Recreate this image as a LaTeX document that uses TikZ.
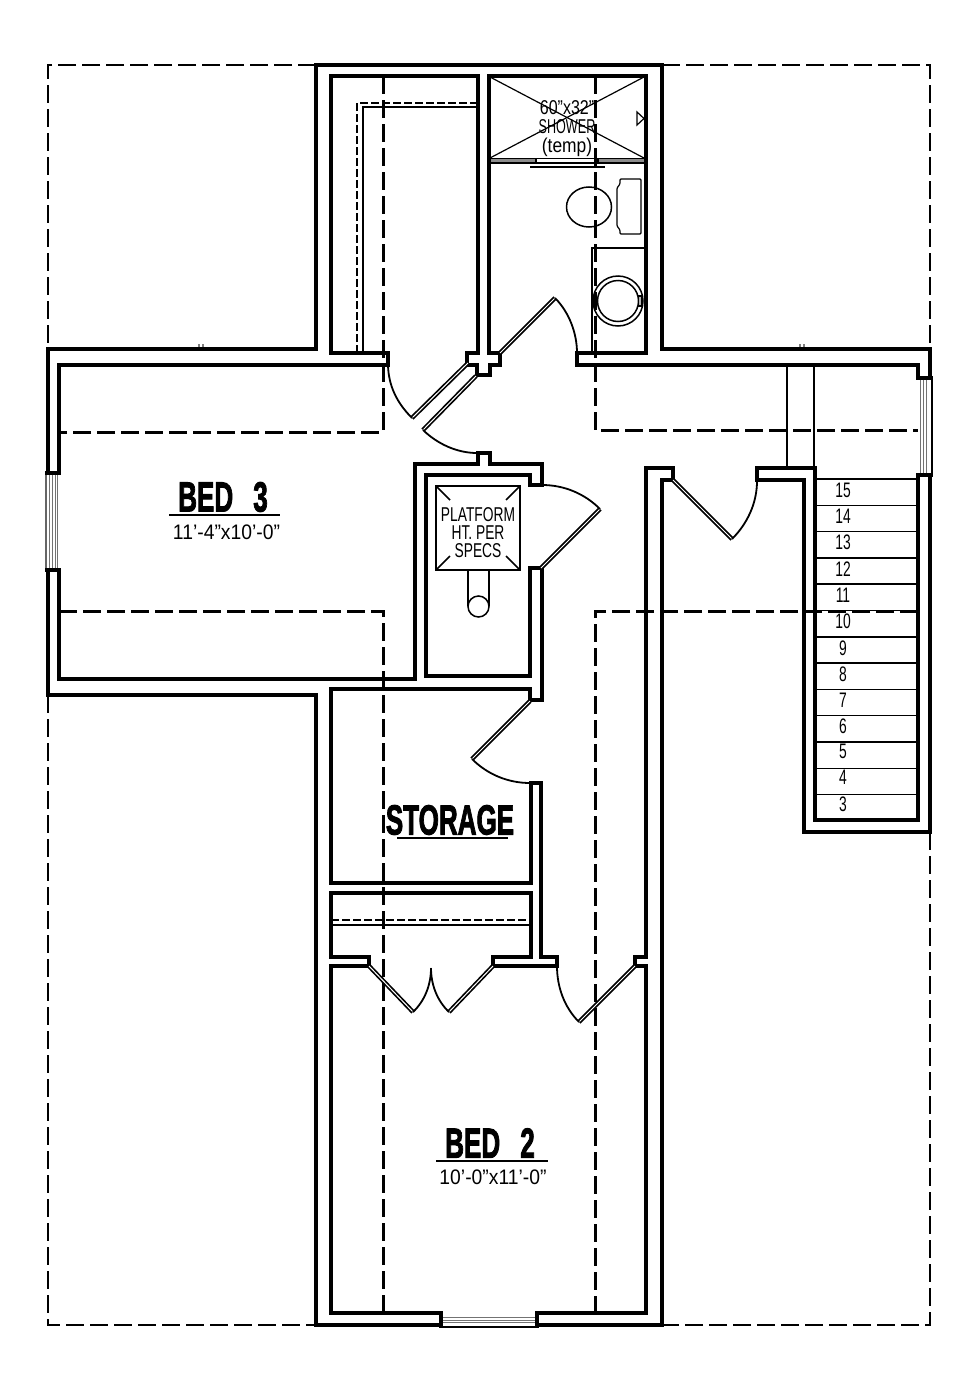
\documentclass[tikz,border=0pt]{standalone}
\usepackage{fontspec}
\setmainfont{Liberation Sans}
\newfontfamily\cadbold[FakeBold=2.6]{Liberation Sans Bold}
\usepackage{graphicx}
\newcommand{\cad}[3]{\scalebox{#1}[1]{\fontsize{#2}{#2}\selectfont #3}}
\newcommand{\cadb}[3]{\scalebox{#1}[1]{\cadbold\fontsize{#2}{#2}\selectfont #3}}
\tikzset{
  wall/.style={line width=3.9pt,miter limit=10},
  outerwall/.style={line width=3.3pt,miter limit=10},
  thinwall/.style={line width=2.4pt},
  hidden/.style={line width=3pt,dash pattern=on 18pt off 6pt},
  perim/.style={line width=2.2pt,dash pattern=on 18pt off 6pt},
  fine/.style={line width=1.5pt},
  hair/.style={line width=1.2pt},
  finedash/.style={line width=1.2pt,dash pattern=on 8pt off 3pt},
  leaf/.style={line width=1.7pt,double,double distance=1pt},
  swing/.style={line width=1.8pt},
  txt/.style={inner sep=0pt,outer sep=0pt,anchor=center},
  glaze/.style={line width=.8pt,black!55},
  jamb/.style={line width=4pt}
}
\begin{document}
\begin{tikzpicture}[x=1pt,y=-1pt]
\useasboundingbox (0,0) rectangle (978,1392);
\fill[white] (0,0) rectangle (978,1392);

% perimeter (dashed)
\draw[perim] (316,65) -- (48,65) -- (48,349);
\draw[perim] (48,695) -- (48,1325) -- (316,1325);
\draw[perim] (662,65) -- (930,65) -- (930,349);
\draw[perim] (930,832) -- (930,1325) -- (662,1325);

% hidden interior lines
\draw[hidden] (383,76) -- (383,432) -- (59,432);
\draw[hidden] (59,611) -- (383,611) -- (383,1312);
\draw[hidden] (595,76) -- (595,430) -- (918,430);
\draw[hidden] (918,611) -- (595,611) -- (595,1312);

% walls
\draw[outerwall] (930,378) -- (930,349) -- (662,349) -- (662,65) -- (316,65) -- (316,349) -- (48,349) -- (48,473);
\draw[outerwall] (48,570) -- (48,695) -- (316,695) -- (316,1325) -- (441,1325);
\draw[outerwall] (537,1325) -- (662,1325) -- (662,480) -- (673,480) -- (673,468) -- (646,468) -- (646,957) -- (635,957) -- (635,966) -- (646,966) -- (646,1313) -- (537,1313);
\draw[wall] (441,1313) -- (331,1313) -- (331,966) -- (369,966) -- (369,957) -- (331,957) -- (331,893) -- (531,893) -- (531,957) -- (493,957) -- (493,966) -- (557,966) -- (557,957) -- (541,957) -- (541,783) -- (531,783) -- (531,883) -- (331,883) -- (331,689) -- (530,689) -- (530,700) -- (542,700) -- (542,568) -- (530,568) -- (530,676) -- (426,676) -- (426,475) -- (530,475) -- (530,485) -- (542,485) -- (542,464) -- (490,464) -- (490,453) -- (478,453) -- (478,464) -- (415,464) -- (415,679) -- (59,679) -- (59,570);
\draw[wall] (59,473) -- (59,365) -- (388,365) -- (388,353) -- (331,353) -- (331,76) -- (478,76) -- (478,353) -- (467,353) -- (467,365) -- (477,365) -- (477,375) -- (490,375) -- (490,365) -- (500,365) -- (500,353) -- (489,353) -- (489,76) -- (646,76) -- (646,353) -- (577,353) -- (577,365) -- (918,365) -- (918,378);
\draw[wall] (918,475) -- (918,820) -- (815,820) -- (815,468) -- (757,468) -- (757,480) -- (804,480) -- (804,832) -- (930,832) -- (930,475);

% closet inner wall above bed 1 passage
\draw[thinwall] (363,353) -- (363,107) -- (477,107);
\draw[finedash] (357,353) -- (357,103) -- (476,103);

% closet rod lines
\draw[finedash] (331,920) -- (531,920);
\draw[thinwall,line width=2pt] (331,925) -- (531,925);

% windows
\foreach \gx in {49,52,55,57} \draw[glaze] (\gx,473) -- (\gx,570);
\draw[hair,black!60] (46,473) -- (46,570);
\draw[jamb] (45,473) -- (61,473);
\draw[jamb] (45,570) -- (61,570);
\foreach \gx in {920,923,926} \draw[glaze] (\gx,378) -- (\gx,475);
\draw[hair] (932,378) -- (932,475);
\draw[jamb] (916,378) -- (933,378);
\draw[jamb] (916,475) -- (933,475);
\foreach \gy in {1317,1320,1322} \draw[glaze] (441,\gy) -- (537,\gy);
\draw[hair] (441,1327) -- (537,1327);
\draw[jamb] (441,1311) -- (441,1328);
\draw[jamb] (537,1311) -- (537,1328);

% door leaves
\draw[leaf] (412,418) -- (468,363);
\draw[leaf] (423,430) -- (476,376);
\draw[leaf] (555,298) -- (500,353);
\draw[leaf] (600,509) -- (541,568);
\draw[leaf] (732,539) -- (673,480);
\draw[leaf] (472,759) -- (530,701);
\draw[leaf] (369,966) -- (413,1012);
\draw[leaf] (493,966) -- (449,1012);
\draw[leaf] (579,1022) -- (635,966);

% door swings
\draw[swing] (388,365) .. controls (388.5,386) and (397,403) .. (412,418);
\draw[swing] (423,430) .. controls (437.5,444) and (457,453) .. (477,453);
\draw[swing] (542,485) .. controls (564,485) and (584.5,493.5) .. (600,509);
\draw[swing] (472,759) .. controls (487.4,774.4) and (508,783) .. (530,783);
\draw[swing] (577,353) .. controls (577,333) and (569,312) .. (555,298);
\draw[swing] (757,481) .. controls (757,503) and (747.5,523.5) .. (732,539);
\draw[swing] (431,968) .. controls (431,984.5) and (425,1000.6) .. (413,1012);
\draw[swing] (431,968) .. controls (431,984.5) and (437,1000.6) .. (449,1012);
\draw[swing] (557,966) .. controls (557,987) and (564.3,1007.3) .. (579,1022);

% shower
\draw[hair] (490,77) -- (644,158);
\draw[hair] (644,77) -- (490,158);
\draw[hair,fill=black!45] (490,158.5) rectangle (536,163);
\draw[hair,fill=black!45] (598,158.5) rectangle (645,163);
\draw[hair] (536,158.5) rectangle (598,163);
\draw[fine] (530,167) -- (605,167);
\draw[hair] (637,112) -- (637,125) -- (644,118.5) -- cycle;

% toilet
\draw[fine] (589,207) ellipse [x radius=22.5,y radius=20];
\draw[hair,rounded corners=1pt] (620,179) -- (641,179) -- (641,234) -- (620,234) -- (620,230) -- (617,226) -- (617,188) -- (620,184) -- cycle;

% washer
\draw[line width=2pt] (592,353) -- (592,248) -- (646,248);
\draw[fine] (618,301) circle [radius=25];
\draw[fine] (618,301) circle [radius=20.5];
\draw[hair,fill=black!30] (638.5,296) rectangle (642,306);
\draw[hair,fill=black!30] (594,297) rectangle (596,302);

% platform
\draw[fine] (436,486) rectangle (520,570);
\draw[fine] (436,486) -- (450,500);
\draw[fine] (520,486) -- (506,500);
\draw[fine] (436,570) -- (450,556);
\draw[fine] (520,570) -- (506,556);
\draw[fine] (468,570) -- (468,606);
\draw[fine] (489,570) -- (489,606);
\draw[fine] (478.5,606.5) circle [radius=10.5];

% stairs
\draw[fine] (787,365) -- (787,468);
\draw[fine] (814,365) -- (814,468);
\foreach \ty in {479,505.3,531.6,557.9,584.2,610.5,636.8,663.1,689.4,715.7,742,768.3,794.6} \draw[fine] (815,\ty) -- (918,\ty);

% tiny marks on the walls
\draw[hair,black!50] (199,344) -- (199,347);
\draw[hair,black!50] (203,344) -- (203,347);
\draw[hair,black!50] (800,344) -- (800,347);
\draw[hair,black!50] (804,344) -- (804,347);

% texts
\node[txt] (s15) at (843,490) {\cad{.66}{21}{15}};
\node[txt] (s14) at (843,516.3) {\cad{.66}{21}{14}};
\node[txt] (s13) at (843,542.6) {\cad{.66}{21}{13}};
\node[txt] (s12) at (843,568.9) {\cad{.66}{21}{12}};
\node[txt] (s11) at (843,595.2) {\cad{.66}{21}{11}};
\node[txt] (s10) at (843,621.5) {\cad{.66}{21}{10}};
\node[txt] (s9) at (843,647.8) {\cad{.66}{21}{9}};
\node[txt] (s8) at (843,674.1) {\cad{.66}{21}{8}};
\node[txt] (s7) at (843,700.4) {\cad{.66}{21}{7}};
\node[txt] (s6) at (843,726.7) {\cad{.66}{21}{6}};
\node[txt] (s5) at (843,751) {\cad{.66}{21}{5}};
\node[txt] (s4) at (843,777.3) {\cad{.66}{21}{4}};
\node[txt] (s3) at (843,804) {\cad{.66}{21}{3}};

\node[txt] (sh1) at (567,108) {\cad{.8}{20}{60"x32"}};
\node[txt] (sh2) at (567,127) {\cad{.63}{20}{SHOWER}};
\node[txt] (sh3) at (567,147) {\cad{.87}{20}{(temp)}};

\node[txt] (pl1) at (478,514.5) {\cad{.69}{20}{PLATFORM}};
\node[txt] (pl2) at (478,532.5) {\cad{.69}{20}{HT. PER}};
\node[txt] (pl3) at (478,551) {\cad{.69}{20}{SPECS}};

\node[txt] (bed3) at (223,497) {\cadb{.62}{42}{BED\hspace{.77em}3}};
\draw[line width=2pt] (169,515) -- (280,515);
\node[txt] (bed3d) at (226.5,532) {\cad{.92}{21}{11'-4"x10'-0"}};

\node[txt] (bed2) at (490,1143) {\cadb{.62}{42}{BED\hspace{.77em}2}};
\draw[line width=2pt] (436,1161) -- (548,1161);
\node[txt] (bed2d) at (493,1177) {\cad{.92}{21}{10'-0"x11'-0"}};

\node[txt] (stor) at (450,820) {\cadb{.62}{42}{STORAGE}};
\draw[line width=2pt] (397,838) -- (508,838);
\end{tikzpicture}
\end{document}
